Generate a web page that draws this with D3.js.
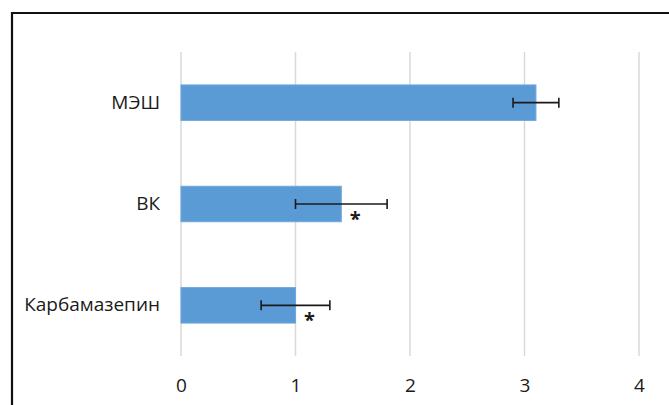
<!DOCTYPE html>
<html>
<head>
<meta charset="utf-8">
<script src="https://cdn.jsdelivr.net/npm/d3@7"></script>
<style>
  html, body { margin: 0; padding: 0; background: #fff; }
  svg { display: block; }
  text { font-family: "Open Sans", "Liberation Sans", sans-serif; fill: #1a1a1a; }
</style>
</head>
<body>
<svg id="chart" width="669" height="405"></svg>
<script>
// Groups (top to bottom), mean values, error bounds and significance marks
const categories = ["МЭШ", "ВК", "Карбамазепин"];
const values = [3.1, 1.4, 1.0];
const errLow = [2.9, 1.0, 0.7];
const errHigh = [3.3, 1.8, 1.3];
const significant = [false, true, true];
const xTicks = [0, 1, 2, 3, 4];

const svg = d3.select("#chart");

// Frame lines along the top and left edges
svg.append("line").attr("x1", 12).attr("x2", 669).attr("y1", 13).attr("y2", 13)
  .attr("stroke", "#111").attr("stroke-width", 2.2);
svg.append("line").attr("x1", 12).attr("x2", 12).attr("y1", 12).attr("y2", 405)
  .attr("stroke", "#111").attr("stroke-width", 2.2);

const x = d3.scaleLinear().domain([0, 4]).range([181, 639]);
const y = d3.scaleBand().domain(categories).range([52, 356]).paddingInner(0.65).paddingOuter(0.325);

// Vertical gridlines
svg.append("g").selectAll("line").data(xTicks).join("line")
  .attr("x1", d => x(d)).attr("x2", d => x(d))
  .attr("y1", 52).attr("y2", 356)
  .attr("stroke", "#d9d9d9").attr("stroke-width", 1.5);

// Value axis labels
const xAxis = d3.axisBottom(x).tickValues(xTicks).tickSize(0).tickPadding(0).tickFormat(d3.format("d"));
const gx = svg.append("g").attr("transform", "translate(0,378)").call(xAxis);
gx.select(".domain").remove();
gx.selectAll("text").attr("font-size", 19).attr("dy", "0.71em")
  .style("font-family", "'Open Sans', sans-serif").attr("fill", "#1a1a1a");

// Category labels
const yAxis = d3.axisLeft(y).tickSize(0).tickPadding(21);
const gy = svg.append("g").attr("transform", "translate(181,0)").call(yAxis);
gy.select(".domain").remove();
gy.selectAll("text").attr("font-size", 19)
  .style("font-family", "'Open Sans', sans-serif").attr("fill", "#1a1a1a");

// Bars
svg.append("g").selectAll("rect").data(categories).join("rect")
  .attr("x", x(0))
  .attr("y", d => y(d))
  .attr("width", (d, i) => x(values[i]) - x(0))
  .attr("height", y.bandwidth())
  .attr("fill", "#5b9bd5")
  .attr("stroke", "#6fa8dc").attr("stroke-width", 1);

// Error bars
const eb = svg.append("g").attr("stroke", "#1a1a1a").attr("stroke-width", 1.6);
categories.forEach((c, i) => {
  const cy = y(c) + y.bandwidth() / 2;
  eb.append("line").attr("x1", x(errLow[i])).attr("x2", x(errHigh[i])).attr("y1", cy).attr("y2", cy);
  eb.append("line").attr("x1", x(errLow[i])).attr("x2", x(errLow[i])).attr("y1", cy - 5).attr("y2", cy + 5);
  eb.append("line").attr("x1", x(errHigh[i])).attr("x2", x(errHigh[i])).attr("y1", cy - 5).attr("y2", cy + 5);
});

// Significance asterisks, just past the bar end near its lower edge
svg.append("g").selectAll("text").data(categories.filter((c, i) => significant[i])).join("text")
  .attr("x", d => x(values[categories.indexOf(d)]) + 14)
  .attr("y", d => y(d) + y.bandwidth() + 4)
  .attr("text-anchor", "middle")
  .attr("font-size", 20).attr("font-weight", "bold")
  .text("*");
</script>
</body>
</html>
